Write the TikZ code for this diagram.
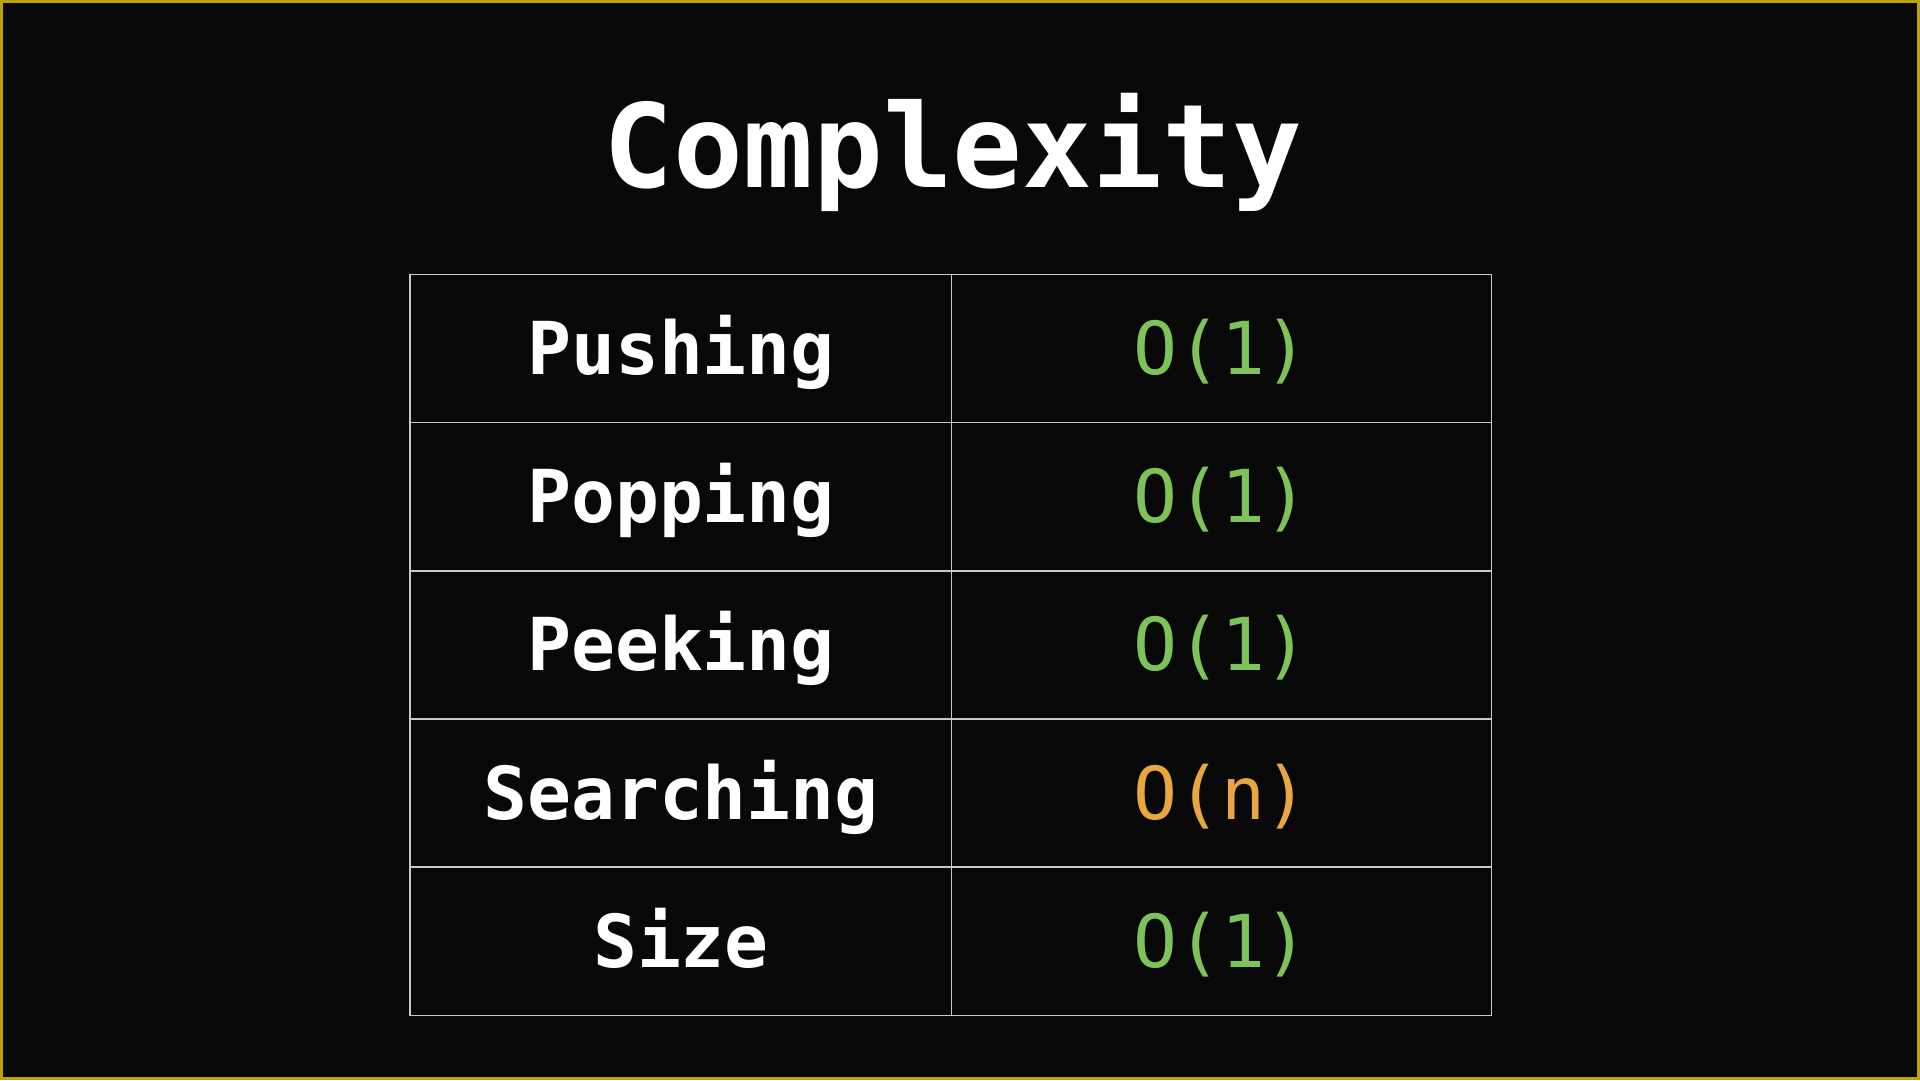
\documentclass[tikz,border=0pt]{standalone}
\usepackage{fontspec}
\setmonofont{DejaVu Sans Mono}
\newfontfamily\monobold{DejaVu Sans Mono Bold}
\definecolor{bg}{HTML}{080808}
\definecolor{frame}{HTML}{BBA300}
\definecolor{grid}{HTML}{C8C8C8}
\definecolor{okgreen}{HTML}{7DC35A}
\definecolor{warnorange}{HTML}{E8A640}
\begin{document}
\begin{tikzpicture}[x=1pt,y=-1pt,
  titletext/.style={text=white,font=\monobold\fontsize{116}{116}\selectfont,anchor=base,inner sep=0pt},
  optext/.style={text=white,font=\monobold\fontsize{73}{73}\selectfont,anchor=base,inner sep=0pt},
  cxtext/.style={font=\ttfamily\fontsize{73}{73}\selectfont,anchor=base,inner sep=0pt},
  cell/.style={draw=grid,line width=1.6pt}]
\fill[bg] (0,0) rectangle (1920,1080);
\useasboundingbox (0,0) rectangle (1920,1080);
\draw[frame,line width=3pt] (1.5,1.5) rectangle (1918.5,1078.5);
\node[titletext] (title) at (953,187) {Complexity};
% table grid
\foreach \r in {0,...,4}{
  \pgfmathsetmacro{\ya}{274.3+148.2*\r}
  \pgfmathsetmacro{\yb}{274.3+148.2*(\r+1)}
  \draw[cell] (410,\ya) rectangle (951.5,\yb);
  \draw[cell] (951.5,\ya) rectangle (1491.5,\yb);
}
\foreach \lab/\cx/\col [count=\i from 0] in {Pushing/O(1)/okgreen,Popping/O(1)/okgreen,Peeking/O(1)/okgreen,Searching/O(n)/warnorange,Size/O(1)/okgreen}{
  \pgfmathsetmacro{\yc}{274.3+148.2*\i+74.1+26}
  \node[optext] (op\i) at (681,\yc) {\lab};
  \node[cxtext,text=\col] (cx\i) at (1221,\yc) {\cx};
}
\end{tikzpicture}
\end{document}
